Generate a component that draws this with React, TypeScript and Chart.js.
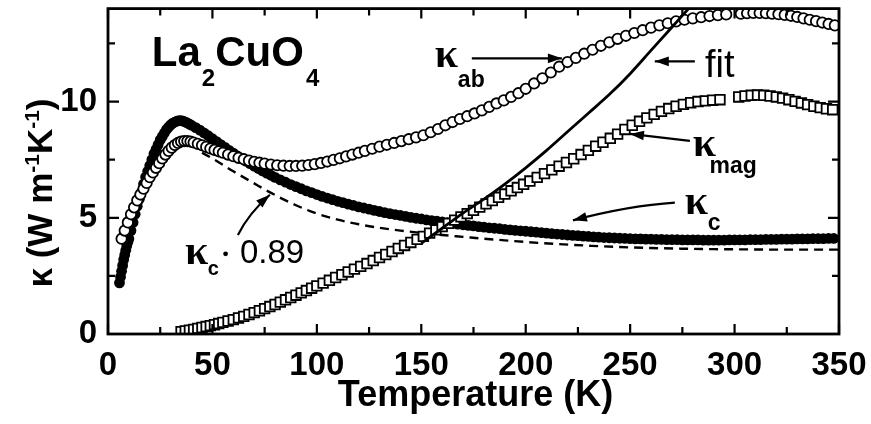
import React, { useEffect, useRef } from "react";
import { Chart, registerables } from "chart.js";

Chart.register(...registerables);

// ---------- data ----------
const xTickValues = [0, 50, 100, 150, 200, 250, 300, 350];
const xMinorValues = [25, 75, 125, 175, 225, 275, 325];
const yTickValues = [0, 5, 10];
const yMinorValues = [2.5, 7.5, 12.5];

// kappa_c (filled circles): [T (K), kappa]
const kappaC: [number, number][] = [
  [5.5, 2.2], [6, 2.45], [6.5, 2.7], [7, 2.95], [7.5, 3.2], [8, 3.4], [8.5, 3.6], [9, 3.8], [9.5, 3.95], [10, 4.1],
  [11, 4.45], [12, 4.8], [13, 5.15], [14, 5.5], [15, 5.8], [16, 6.1], [17, 6.45], [18, 6.75], [19, 7.0], [20, 7.25],
  [21, 7.5], [22, 7.75], [23, 7.95], [24, 8.15], [25, 8.35], [26, 8.5], [27, 8.65], [28, 8.8], [29, 8.9], [30, 9.0],
  [31, 9.07], [32, 9.12], [33, 9.16], [34, 9.18], [35, 9.18], [36, 9.16], [37, 9.12], [38, 9.08], [39, 9.03], [40, 8.98],
  [42, 8.88], [44, 8.77], [46, 8.65], [48, 8.53], [50, 8.4], [52, 8.28], [54, 8.15], [56, 8.03], [58, 7.9], [60, 7.78],
  [62, 7.66], [64, 7.55], [66, 7.44], [68, 7.33], [70, 7.22], [72, 7.12], [74, 7.02], [76, 6.92], [78, 6.83], [80, 6.74],
  [82.5, 6.63], [85, 6.53], [87.5, 6.43], [90, 6.34], [92.5, 6.25], [95, 6.16], [97.5, 6.08], [100, 6.0], [102.5, 5.92], [105, 5.85],
  [107.5, 5.78], [110, 5.71], [112.5, 5.65], [115, 5.59], [117.5, 5.53], [120, 5.47], [122.5, 5.42], [125, 5.37], [127.5, 5.32], [130, 5.27],
  [132.5, 5.22], [135, 5.18], [137.5, 5.14], [140, 5.1], [142.5, 5.06], [145, 5.02], [147.5, 4.98], [150, 4.95], [152.5, 4.91], [155, 4.88],
  [157.5, 4.85], [160, 4.82], [162.5, 4.79], [165, 4.76], [167.5, 4.73], [170, 4.7], [172.5, 4.67], [175, 4.65], [177.5, 4.62], [180, 4.6],
  [182.5, 4.57], [185, 4.55], [187.5, 4.53], [190, 4.5], [192.5, 4.48], [195, 4.46], [197.5, 4.44], [200, 4.42], [202.5, 4.4], [205, 4.38],
  [207.5, 4.36], [210, 4.34], [212.5, 4.32], [215, 4.3], [217.5, 4.28], [220, 4.26], [222.5, 4.24], [225, 4.23], [227.5, 4.21], [230, 4.2],
  [232.5, 4.18], [235, 4.17], [237.5, 4.15], [240, 4.14], [242.5, 4.13], [245, 4.12], [247.5, 4.11], [250, 4.1], [252.5, 4.09], [255, 4.09],
  [257.5, 4.08], [260, 4.08], [262.5, 4.07], [265, 4.07], [267.5, 4.06], [270, 4.06], [272.5, 4.06], [275, 4.05], [277.5, 4.05], [280, 4.05],
  [282.5, 4.05], [285, 4.04], [287.5, 4.04], [290, 4.04], [292.5, 4.04], [295, 4.04], [297.5, 4.05], [300, 4.05], [302.5, 4.05], [305, 4.05],
  [307.5, 4.06], [310, 4.06], [312.5, 4.06], [315, 4.07], [317.5, 4.07], [320, 4.07], [322.5, 4.08], [325, 4.08], [327.5, 4.08], [330, 4.09],
  [332.5, 4.09], [335, 4.09], [337.5, 4.1], [340, 4.1], [342.5, 4.1], [345, 4.11], [347.5, 4.11],
];

// kappa_ab (open circles)
const kappaAB: [number, number][] = [
  [6.5, 4.1], [8, 4.45], [9.5, 4.8], [11, 5.15], [12.5, 5.45], [14, 5.75], [15.5, 6.0], [17, 6.25], [18.5, 6.5], [20, 6.75],
  [21.5, 6.95], [23, 7.15], [24.5, 7.35], [26, 7.55], [27.5, 7.72], [29, 7.88], [30.5, 8.02], [32, 8.13], [33.5, 8.22], [35, 8.28],
  [36.5, 8.3], [38, 8.3], [39.5, 8.28], [41, 8.24], [43, 8.18], [45, 8.12], [47, 8.05], [49, 7.98], [51, 7.92], [53, 7.86],
  [55, 7.8], [57.5, 7.72], [60, 7.65], [62.5, 7.58], [65, 7.52], [67.5, 7.46], [70, 7.41], [72.5, 7.37], [75, 7.33], [78, 7.29],
  [81, 7.26], [84, 7.24], [87, 7.23], [90, 7.23], [93, 7.24], [96, 7.27], [99, 7.31], [102, 7.36], [105, 7.42], [108, 7.49],
  [111, 7.56], [114, 7.64], [117, 7.72], [120, 7.8], [123, 7.88], [126.5, 7.97], [130, 8.06], [133.5, 8.14], [137, 8.22], [140.5, 8.3],
  [144, 8.38], [147.5, 8.46], [151, 8.55], [154.5, 8.68], [158, 8.82], [161.5, 8.98], [165, 9.12], [168.5, 9.25], [172, 9.37], [175.5, 9.49],
  [179, 9.62], [182.5, 9.77], [186, 9.92], [189.5, 10.05], [193, 10.2], [196.5, 10.36], [200, 10.55], [204, 10.78], [208, 11.0], [212, 11.25],
  [216, 11.5], [220, 11.7], [224, 11.88], [228, 12.06], [232, 12.23], [236, 12.4], [240, 12.55], [244, 12.7], [248, 12.83], [252, 12.95],
  [256, 13.07], [260, 13.18], [264, 13.28], [268, 13.37], [272, 13.45], [276, 13.52], [280, 13.58], [284, 13.63], [288, 13.68], [292, 13.72],
  [296, 13.75], [303, 13.78], [306, 13.8], [309, 13.81], [312, 13.81], [315, 13.8], [318, 13.78], [321, 13.76], [324, 13.73], [327, 13.69],
  [330, 13.64], [333, 13.58], [336, 13.52], [339, 13.46], [342, 13.4], [345, 13.34], [348, 13.28],
];

// kappa_mag (open squares)
const kappaMag: [number, number][] = [
  [35, 0.1], [37, 0.13], [39, 0.16], [41, 0.2], [43, 0.24], [45, 0.28], [47, 0.32], [49, 0.36], [51, 0.4], [53, 0.45],
  [55, 0.5], [57.5, 0.56], [60, 0.62], [62.5, 0.69], [65, 0.76], [67.5, 0.84], [70, 0.92], [72.5, 1.0], [75, 1.09], [77.5, 1.18],
  [80, 1.27], [82.5, 1.37], [85, 1.47], [87.5, 1.57], [90, 1.67], [92.5, 1.77], [95, 1.87], [97.5, 1.97], [100, 2.07], [103, 2.19],
  [106, 2.31], [109, 2.43], [112, 2.55], [115, 2.67], [118, 2.79], [121, 2.91], [124, 3.03], [127, 3.16], [130, 3.29], [133, 3.42],
  [136, 3.55], [139, 3.68], [142, 3.81], [145, 3.94], [148, 4.07], [151, 4.2], [154, 4.34], [157, 4.48], [160, 4.62], [163, 4.76],
  [166, 4.9], [169, 5.04], [172, 5.18], [175, 5.32], [178, 5.46], [181, 5.6], [184, 5.74], [187, 5.88], [190, 6.02], [193, 6.16],
  [196, 6.3], [199, 6.44], [202, 6.58], [205.5, 6.74], [209, 6.9], [212.5, 7.06], [216, 7.22], [219.5, 7.38], [223, 7.54], [226.5, 7.72],
  [230, 7.9], [233.5, 8.08], [237, 8.25], [240.5, 8.42], [244, 8.6], [247.5, 8.8], [251, 8.98], [254.5, 9.15], [258, 9.3], [261.5, 9.45],
  [265, 9.58], [268.5, 9.7], [272, 9.8], [275.5, 9.88], [279, 9.95], [282.5, 10.0], [286, 10.03], [289.5, 10.06], [293, 10.08],
  [302, 10.2], [305, 10.24], [308, 10.27], [311, 10.28], [314, 10.27], [317, 10.24], [320, 10.2], [323, 10.15], [326, 10.08], [329, 10.01],
  [332, 9.94], [335, 9.87], [338, 9.8], [341, 9.74], [344, 9.69], [347, 9.65],
];

// fit (solid line)
const fitCurve: [number, number][] = [
  [150, 3.9], [160, 4.55], [170, 5.2], [180, 5.8], [190, 6.45], [200, 7.15], [210, 7.9], [220, 8.7],
  [230, 9.5], [240, 10.3], [250, 11.2], [260, 12.2], [270, 13.2], [280, 14.2],
];

// kappa_c * 0.89 (dashed line)
const kappaCScaled: [number, number][] = [
  [45, 7.8], [50, 7.55], [55, 7.28], [60, 7.0], [65, 6.74], [70, 6.48], [75, 6.22], [80, 5.98], [85, 5.75], [90, 5.54],
  [95, 5.35], [100, 5.18], [110, 4.92], [120, 4.72], [130, 4.57], [140, 4.45], [150, 4.35], [160, 4.26], [170, 4.18], [180, 4.1],
  [190, 4.03], [200, 3.96], [215, 3.87], [230, 3.8], [245, 3.74], [260, 3.7], [275, 3.67], [290, 3.65], [305, 3.64], [320, 3.63],
  [335, 3.63], [350, 3.63],
];

const toXY = (arr: [number, number][]) => arr.map(([x, y]) => ({ x, y }));

const SANS = '"Liberation Sans", Arial, Helvetica, sans-serif';
const SERIF = '"Liberation Serif", "DejaVu Serif", serif';

const framePlugin = {
  id: "frameAndNotes",
  afterDatasetsDraw(chart: any) {
    const { ctx, chartArea: a, scales } = chart;
    const xs = scales.x;
    const ys = scales.y;
    const X = (t: number) => xs.getPixelForValue(t);
    const Y = (k: number) => ys.getPixelForValue(k);
    ctx.save();
    ctx.strokeStyle = "#000";
    ctx.fillStyle = "#000";
    ctx.lineCap = "butt";

    // inward ticks on all four sides
    ctx.lineWidth = 2.2;
    const tickX = (v: number, len: number) => {
      const p = X(v);
      ctx.beginPath();
      ctx.moveTo(p, a.bottom);
      ctx.lineTo(p, a.bottom - len);
      ctx.moveTo(p, a.top);
      ctx.lineTo(p, a.top + len);
      ctx.stroke();
    };
    const tickY = (v: number, len: number) => {
      const p = Y(v);
      ctx.beginPath();
      ctx.moveTo(a.left, p);
      ctx.lineTo(a.left + len, p);
      ctx.moveTo(a.right, p);
      ctx.lineTo(a.right - len, p);
      ctx.stroke();
    };
    xTickValues.forEach((v) => tickX(v, 10));
    xMinorValues.forEach((v) => tickX(v, 7));
    yTickValues.forEach((v) => tickY(v, 11));
    yMinorValues.forEach((v) => tickY(v, 7));

    // frame
    ctx.lineWidth = 2.8;
    ctx.strokeRect(a.left, a.top, a.right - a.left, a.bottom - a.top);

    const txt = (s: string, x: number, y: number, font: string) => {
      ctx.font = font;
      ctx.textAlign = "left";
      ctx.textBaseline = "alphabetic";
      ctx.fillText(s, x, y);
      return ctx.measureText(s).width;
    };
    const head = (x: number, y: number, ang: number) => {
      const L = 14;
      const W = 4.8;
      ctx.beginPath();
      ctx.moveTo(x, y);
      ctx.lineTo(x - L * Math.cos(ang) + W * Math.sin(ang), y - L * Math.sin(ang) - W * Math.cos(ang));
      ctx.lineTo(x - L * Math.cos(ang) - W * Math.sin(ang), y - L * Math.sin(ang) + W * Math.cos(ang));
      ctx.closePath();
      ctx.fill();
    };
    const arrow = (p0: number[], p1: number[], c?: number[]) => {
      const [x0, y0] = [X(p0[0]), Y(p0[1])];
      const [x1, y1] = [X(p1[0]), Y(p1[1])];
      ctx.lineWidth = 2.2;
      ctx.beginPath();
      ctx.moveTo(x0, y0);
      let ang;
      if (c) {
        const [cx, cy] = [X(c[0]), Y(c[1])];
        ctx.quadraticCurveTo(cx, cy, x1, y1);
        ang = Math.atan2(y1 - cy, x1 - cx);
      } else {
        ctx.lineTo(x1, y1);
        ang = Math.atan2(y1 - y0, x1 - x0);
      }
      ctx.stroke();
      head(x1, y1, ang);
    };

    // La2CuO4
    {
      let x = X(21);
      const y = Y(11.55);
      x += txt("La", x, y, `bold 42px ${SANS}`);
      x += txt("2", x + 1, y + 20, `bold 24px ${SANS}`) + 1;
      x += txt("CuO", x, y, `bold 42px ${SANS}`);
      txt("4", x + 2, y + 20, `bold 24px ${SANS}`);
    }
    // kappa_ab
    txt("\u03ba", X(156.5), Y(11.48), `bold 42px ${SERIF}`);
    txt("ab", X(167.5), Y(10.63), `bold 23px ${SANS}`);
    arrow([174.2, 11.86], [217.3, 11.86]);
    // fit
    txt("fit", X(285.8), Y(11.05), `38px ${SANS}`);
    arrow([281, 11.73], [261.8, 11.73]);
    // kappa_mag
    txt("\u03ba", X(280), Y(7.64), `bold 42px ${SERIF}`);
    txt("mag", X(288), Y(6.92), `bold 23px ${SANS}`);
    arrow([278.6, 8.31], [249.9, 8.61]);
    // kappa_c
    txt("\u03ba", X(276.2), Y(5.15), `bold 42px ${SERIF}`);
    txt("c", X(287.2), Y(4.47), `bold 23px ${SANS}`);
    arrow([271.4, 5.65], [222.6, 4.89], [249.9, 5.53]);
    // kappa_c * 0.89
    txt("\u03ba", X(36.9), Y(3.0), `bold 42px ${SERIF}`);
    txt("c", X(47.8), Y(2.53), `bold 20px ${SANS}`);
    ctx.beginPath();
    ctx.arc(X(56.3), Y(3.45), 2.4, 0, Math.PI * 2);
    ctx.fill();
    txt("0.89", X(63.2), Y(3.04), `33px ${SANS}`);
    arrow([62.2, 4.26], [77.5, 5.99], [67.5, 5.2]);

    // axis titles
    {
      ctx.font = `bold 36px ${SANS}`;
      ctx.textAlign = "center";
      ctx.textBaseline = "alphabetic";
      ctx.fillText("Temperature (K)", (a.left + a.right) / 2 + 2, 406);
    }
    {
      ctx.save();
      ctx.translate(52, 193);
      ctx.rotate(-Math.PI / 2);
      const f1 = `bold 35px ${SANS}`;
      const f2 = `bold 21px ${SANS}`;
      const parts: [string, string, number][] = [
        ["\u03ba (W m", f1, 0],
        ["-1", f2, -13],
        ["K", f1, 0],
        ["-1", f2, -13],
        [")", f1, 0],
      ];
      let total = 0;
      parts.forEach(([s, f]) => {
        ctx.font = f;
        total += ctx.measureText(s).width;
      });
      let x = -total / 2;
      ctx.textAlign = "left";
      ctx.textBaseline = "alphabetic";
      parts.forEach(([s, f, dy]) => {
        ctx.font = f;
        ctx.fillText(s, x, dy);
        x += ctx.measureText(s).width;
      });
      ctx.restore();
    }
    ctx.restore();
  },
};

export default function App() {
  const ref = useRef<HTMLCanvasElement | null>(null);
  useEffect(() => {
    if (!ref.current) return;
    const tickFont = { family: SANS, size: 33, weight: "bold" as const };
    const chart = new Chart(ref.current, {
      type: "scatter",
      data: {
        datasets: [
          {
            label: "fit",
            data: toXY(fitCurve),
            showLine: true,
            borderColor: "#000",
            borderWidth: 2.8,
            pointRadius: 0,
            cubicInterpolationMode: "monotone",
            order: 0,
          } as any,
          {
            label: "kappa_ab",
            data: toXY(kappaAB),
            pointStyle: "circle",
            pointRadius: 5.2,
            pointBackgroundColor: "#fff",
            pointBorderColor: "#000",
            pointBorderWidth: 1.8,
            showLine: false,
            order: 1,
          },
          {
            label: "kappa_mag",
            data: toXY(kappaMag),
            pointStyle: "rect",
            pointRadius: 6.8,
            pointBackgroundColor: "#fff",
            pointBorderColor: "#000",
            pointBorderWidth: 1.8,
            showLine: false,
            order: 2,
          },
          {
            label: "kappa_c",
            data: toXY(kappaC),
            pointStyle: "circle",
            pointRadius: 5.4,
            pointBackgroundColor: "#000",
            pointBorderColor: "#000",
            pointBorderWidth: 0,
            showLine: false,
            order: 3,
          },
          {
            label: "kappa_c*0.89",
            data: toXY(kappaCScaled),
            showLine: true,
            borderColor: "#000",
            borderWidth: 2.4,
            borderDash: [9, 6],
            pointRadius: 0,
            cubicInterpolationMode: "monotone",
            order: 4,
          } as any,
        ],
      },
      options: {
        responsive: false,
        maintainAspectRatio: false,
        animation: false,
        devicePixelRatio: 1,
        layout: { padding: { top: 2, right: 32, left: 0, bottom: 0 } },
        plugins: { legend: { display: false }, tooltip: { enabled: false }, title: { display: false } },
        scales: {
          x: {
            type: "linear",
            position: "bottom",
            min: 0,
            max: 350,
            grid: { display: false, drawTicks: false },
            border: { display: false },
            ticks: { font: tickFont, color: "#000", padding: 12, maxRotation: 0, autoSkip: false },
            afterBuildTicks: (s: any) => {
              s.ticks = xTickValues.map((v) => ({ value: v }));
            },
            afterFit: (s: any) => {
              s.height = 90;
              s.paddingLeft = 0;
              s.paddingRight = 0;
            },
          },
          y: {
            type: "linear",
            min: 0,
            max: 14,
            grid: { display: false, drawTicks: false },
            border: { display: false },
            ticks: { font: tickFont, color: "#000", padding: 11, autoSkip: false },
            afterBuildTicks: (s: any) => {
              s.ticks = yTickValues.map((v) => ({ value: v }));
            },
            afterFit: (s: any) => {
              s.width = 108;
              s.paddingTop = 0;
              s.paddingBottom = 0;
            },
          },
        },
      },
      plugins: [framePlugin],
    });
    return () => chart.destroy();
  }, []);
  return (
    <div style={{ position: "fixed", left: 0, top: 0, width: 871, height: 424, background: "#fff" }}>
      <canvas ref={ref} width={871} height={424} style={{ display: "block", width: 871, height: 424 }} />
    </div>
  );
}
